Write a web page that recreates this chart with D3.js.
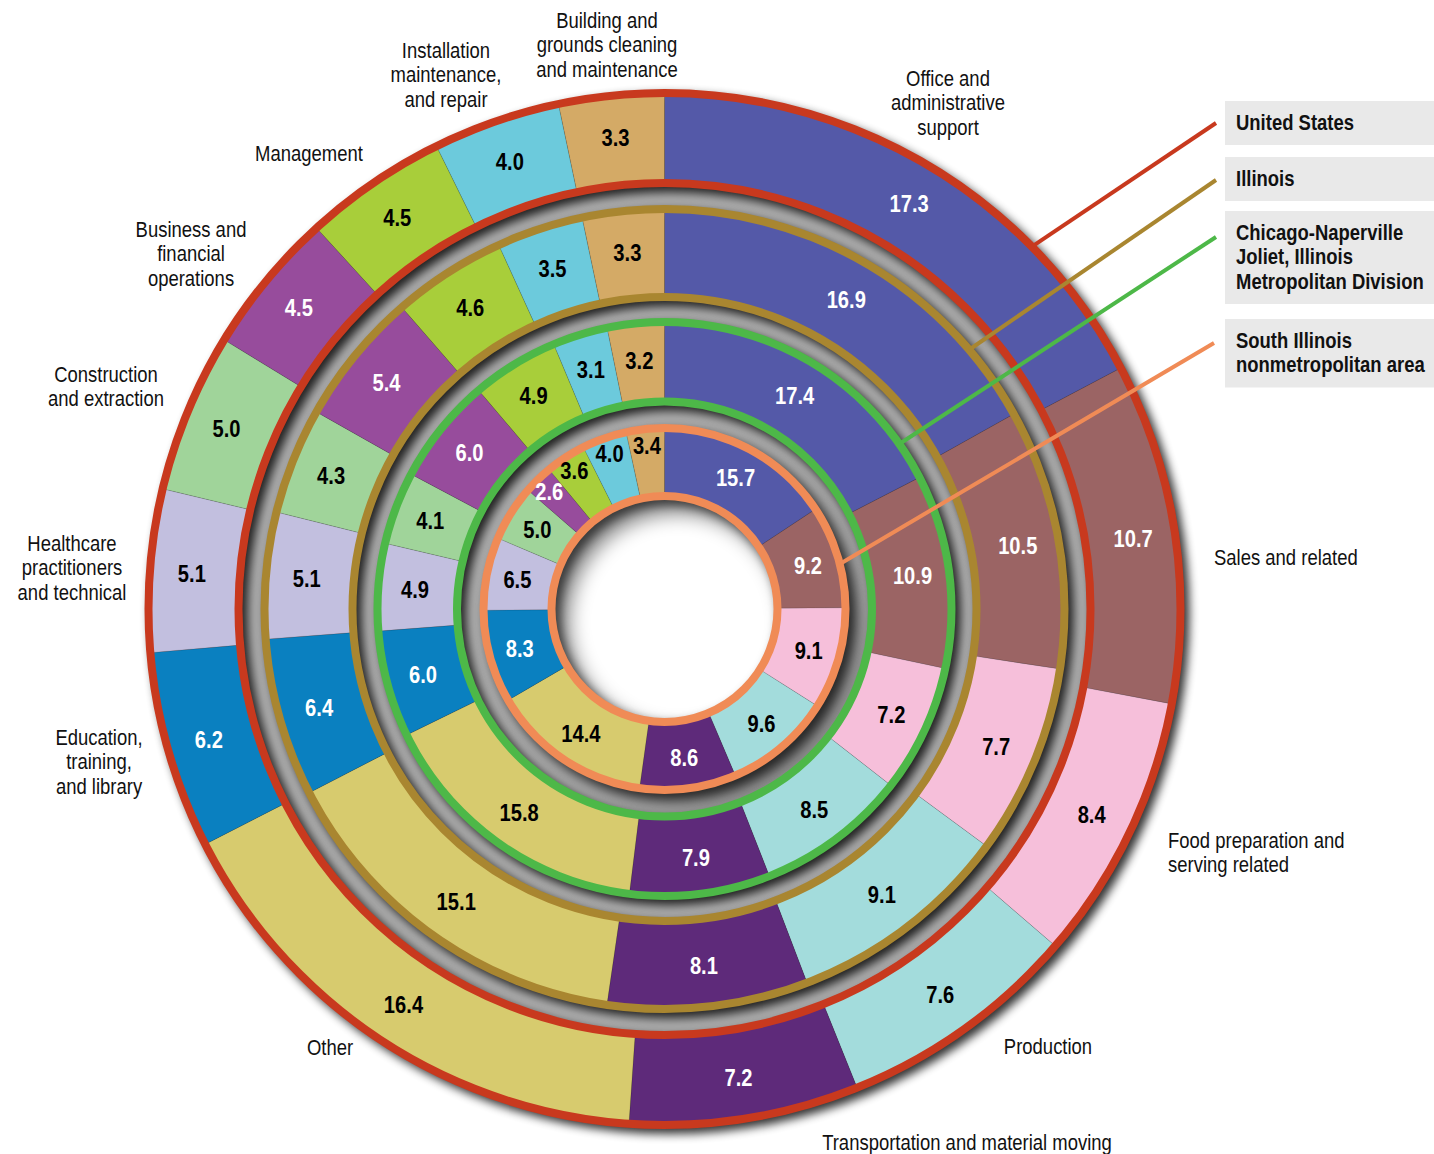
<!DOCTYPE html>
<html>
<head>
<meta charset="utf-8">
<script src="https://cdn.jsdelivr.net/npm/d3@7"></script>
<style>
body { margin: 0; background: #fff; }
svg { display: block; }
text { font-family: "Liberation Sans", Arial, sans-serif; }
</style>
</head>
<body>
<div id="chart"></div>
<script>
// occupations, clockwise from 12 o'clock
var categories = [
    "Office and administrative support",
    "Sales and related",
    "Food preparation and serving related",
    "Production",
    "Transportation and material moving",
    "Other",
    "Education, training, and library",
    "Healthcare practitioners and technical",
    "Construction and extraction",
    "Business and financial operations",
    "Management",
    "Installation maintenance, and repair",
    "Building and grounds cleaning and maintenance"
];

// percent of employment, same order as categories
var unitedStates  = [17.3, 10.7, 8.4, 7.6, 7.2, 16.4, 6.2, 5.1, 5.0, 4.5, 4.5, 4.0, 3.3];
var illinois      = [16.9, 10.5, 7.7, 9.1, 8.1, 15.1, 6.4, 5.1, 4.3, 5.4, 4.6, 3.5, 3.3];
var chicago       = [17.4, 10.9, 7.2, 8.5, 7.9, 15.8, 6.0, 4.9, 4.1, 6.0, 4.9, 3.1, 3.2];
var southIllinois = [15.7, 9.2, 9.1, 9.6, 8.6, 14.4, 8.3, 6.5, 5.0, 2.6, 3.6, 4.0, 3.4];

var areas = ["United States", "Illinois",
    "Chicago-Naperville Joliet, Illinois Metropolitan Division",
    "South Illinois nonmetropolitan area"];

// ---- layout / style ----
var width = 1434, height = 1154;
var cx = 664.5, cy = 609;
var ringRadii = [[426, 516], [312, 400], [207.5, 287], [113, 181]];
var ringColors = ["#c8391e", "#a98630", "#4db848", "#f08b56"];
var catColors = ["#5459a8", "#9b6464", "#f6bfda", "#a3dcdc", "#5e2a7a", "#d7cb6e",
    "#0a80c0", "#c2bfdf", "#a0d49a", "#974c9c", "#a8ce3a", "#6ccadc", "#d4aa66"];

var catLabelLayout = [
    {lines: ["Office and", "administrative", "support"], x: 948, y: 78, anchor: "middle"},
    {lines: ["Sales and related"], x: 1214, y: 557, anchor: "start"},
    {lines: ["Food preparation and", "serving related"], x: 1168, y: 840, anchor: "start"},
    {lines: ["Production"], x: 1048, y: 1046, anchor: "middle"},
    {lines: ["Transportation and material moving"], x: 967, y: 1142, anchor: "middle"},
    {lines: ["Other"], x: 330, y: 1047, anchor: "middle"},
    {lines: ["Education,", "training,", "and library"], x: 99, y: 737, anchor: "middle"},
    {lines: ["Healthcare", "practitioners", "and technical"], x: 72, y: 543, anchor: "middle"},
    {lines: ["Construction", "and extraction"], x: 106, y: 374, anchor: "middle"},
    {lines: ["Business and", "financial", "operations"], x: 191, y: 229, anchor: "middle"},
    {lines: ["Management"], x: 309, y: 153, anchor: "middle"},
    {lines: ["Installation", "maintenance,", "and repair"], x: 446, y: 50, anchor: "middle"},
    {lines: ["Building and", "grounds cleaning", "and maintenance"], x: 607, y: 20, anchor: "middle"}
];

var legendLines = [["United States"], ["Illinois"],
    ["Chicago-Naperville", "Joliet, Illinois", "Metropolitan Division"],
    ["South Illinois", "nonmetropolitan area"]];
var legendY = [122, 178, 232, 340];
var leaderStart = [[1216, 123], [1216, 180], [1216, 237], [1214, 343]];
var leaderAngle = [-44.6, -40.4, -35.1, -14.4];

var series = [unitedStates, illinois, chicago, southIllinois];
var lineH = 24.5;
var narrow = 0.84;   // condensed look

var svg = d3.select("#chart").append("svg")
    .attr("width", width)
    .attr("height", height);

var defs = svg.append("defs");
defs.append("filter")
    .attr("id", "blur")
    .attr("x", "-20%").attr("y", "-20%")
    .attr("width", "140%").attr("height", "140%")
  .append("feGaussianBlur")
    .attr("stdDeviation", 5);
defs.append("filter")
    .attr("id", "blurHole")
    .attr("x", "-30%").attr("y", "-30%")
    .attr("width", "160%").attr("height", "160%")
  .append("feGaussianBlur")
    .attr("stdDeviation", 10);

var g = svg.append("g")
    .attr("transform", "translate(" + cx + "," + cy + ")");

var annulus = d3.arc().startAngle(0).endAngle(2 * Math.PI);

// grey gaps between rings
for (var i = 0; i < ringRadii.length - 1; i++) {
    g.append("path")
        .attr("d", annulus({innerRadius: ringRadii[i + 1][1], outerRadius: ringRadii[i][0]}))
        .attr("fill", "#a9a9a9");
}

// shadow falling into the centre hole (upper left side)
var inner = ringRadii[ringRadii.length - 1];
g.append("path")
    .attr("d", annulus({innerRadius: inner[0] - 4, outerRadius: inner[1]}))
    .attr("transform", "translate(13,13)")
    .attr("fill", "#000")
    .attr("opacity", 0.5)
    .attr("filter", "url(#blurHole)");

// drop shadows of each ring
ringRadii.forEach(function(r, i) {
    g.append("path")
        .attr("d", annulus({innerRadius: r[0] - 4, outerRadius: r[1] + 4}))
        .attr("transform", "translate(5,5)")
        .attr("fill", "#000")
        .attr("opacity", i === ringRadii.length - 1 ? 0.55 : 0.8)
        .attr("filter", "url(#blur)");
});

var pie = d3.pie().sort(null).value(function(d) { return d; });

series.forEach(function(values, ri) {
    var r = ringRadii[ri];
    var arc = d3.arc().innerRadius(r[0]).outerRadius(r[1]);
    var arcs = pie(values);
    var ring = g.append("g").attr("class", "ring");

    ring.selectAll("path.seg")
        .data(arcs)
        .enter()
        .append("path")
            .attr("class", "seg")
            .attr("d", arc)
            .attr("fill", function(d, i) { return catColors[i]; })
            .attr("stroke", "rgba(0,0,0,0.18)")
            .attr("stroke-width", 0.6);

    // ring borders
    r.forEach(function(rad) {
        ring.append("circle")
            .attr("r", rad)
            .attr("fill", "none")
            .attr("stroke", ringColors[ri])
            .attr("stroke-width", 8);
    });

    ring.selectAll("text.val")
        .data(arcs)
        .enter()
        .append("text")
            .attr("class", "val")
            .attr("transform", function(d) {
                var mid = (r[0] + r[1]) / 2 + 3;
                // push labels of thin slices outward so they fit
                if ((d.endAngle - d.startAngle) * mid < 40) mid += 15;
                var a = (d.startAngle + d.endAngle) / 2;
                return "translate(" + (mid * Math.sin(a)) + "," + (-mid * Math.cos(a)) + ") scale(" + narrow + ",1)";
            })
            .attr("text-anchor", "middle")
            .attr("dy", "0.36em")
            .style("font-size", "24px")
            .style("font-weight", "bold")
            .attr("fill", function(d, i) {
                return d3.lab(catColors[i]).l < 60 ? "#fff" : "#000";
            })
            .text(function(d) { return d3.format(".1f")(d.data); });
});

// leader lines from legend to rings
leaderStart.forEach(function(p, i) {
    var a = leaderAngle[i] * Math.PI / 180;
    var rr = ringRadii[i][1];
    svg.append("line")
        .attr("x1", p[0]).attr("y1", p[1])
        .attr("x2", cx + rr * Math.cos(a))
        .attr("y2", cy + rr * Math.sin(a))
        .attr("stroke", ringColors[i])
        .attr("stroke-width", 4);
});

// legend
legendLines.forEach(function(lines, i) {
    var y0 = legendY[i];
    svg.append("rect")
        .attr("x", 1225)
        .attr("y", y0 - 21)
        .attr("width", width - 1225)
        .attr("height", (lines.length - 1) * lineH + 44)
        .attr("fill", "#e9e9e9");
    var t = svg.append("text")
        .attr("transform", "translate(1236," + y0 + ") scale(" + narrow + ",1)")
        .style("font-size", "22px")
        .style("font-weight", "bold")
        .attr("fill", "#111");
    lines.forEach(function(l, j) {
        t.append("tspan")
            .attr("x", 0)
            .attr("y", j * lineH)
            .attr("dy", "0.36em")
            .text(l);
    });
});

// category labels
catLabelLayout.forEach(function(lab) {
    var t = svg.append("text")
        .attr("transform", "translate(" + lab.x + "," + lab.y + ") scale(" + narrow + ",1)")
        .attr("text-anchor", lab.anchor)
        .style("font-size", "22px")
        .attr("fill", "#111");
    lab.lines.forEach(function(l, j) {
        t.append("tspan")
            .attr("x", 0)
            .attr("y", j * lineH)
            .attr("dy", "0.36em")
            .text(l);
    });
});
</script>
</body>
</html>
